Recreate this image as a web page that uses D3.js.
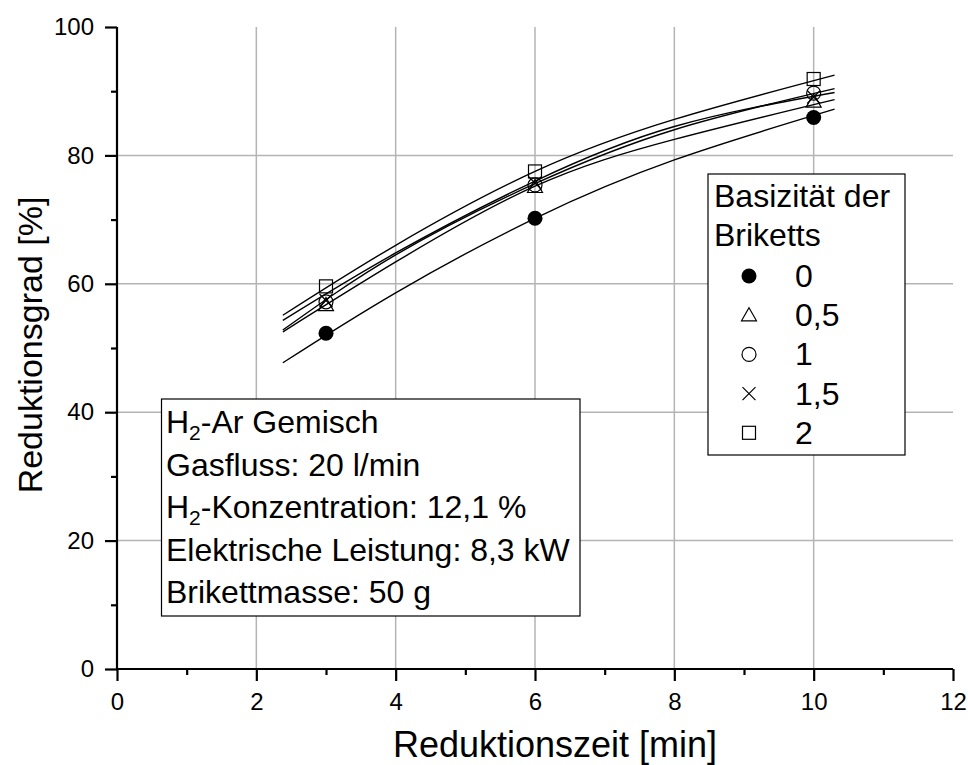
<!DOCTYPE html>
<html>
<head>
<meta charset="utf-8">
<script src="https://cdn.jsdelivr.net/npm/d3@7"></script>
<style>
  body { margin: 0; background: #fff; }
  text { font-family: "Liberation Sans", Arial, sans-serif; }
</style>
</head>
<body>
<div id="chart"></div>
<script>
// measured values
var times = [3, 6, 10];
var seriesNames = ['0', '0,5', '1', '1,5', '2'];
var symbols = ['dot', 'triangle', 'circle', 'cross', 'square'];
var grad0 = [52.3, 70.2, 85.9];
var grad05 = [56.7, 75.1, 88.4];
var grad1 = [57.2, 75.4, 89.7];
var grad15 = [57.4, 75.7, 89.1];
var grad2 = [59.6, 77.5, 91.9];

// fitted curves
var fitX = [2.38, 4, 6, 8, 10.3];
var fit0 = [47.7, 58.6, 70.2, 79.3, 87.2];
var fit05 = [52.5, 63.4, 75.2, 82.5, 88.7];
var fit1 = [52.8, 64.5, 75.6, 84.0, 90.4];
var fit15 = [54.3, 64.8, 76.0, 84.5, 89.8];
var fit2 = [55.1, 66.0, 77.5, 85.6, 92.5];

var xTicks = [0, 2, 4, 6, 8, 10, 12];
var yTicks = [0, 20, 40, 60, 80, 100];

var infoLines = [
  ['H', '2', '-Ar Gemisch'],
  ['Gasfluss: 20 l/min'],
  ['H', '2', '-Konzentration: 12,1 %'],
  ['Elektrische Leistung: 8,3 kW'],
  ['Brikettmasse: 50 g']
];

var values = [grad0, grad05, grad1, grad15, grad2];
var fits = [fit0, fit05, fit1, fit15, fit2];

var width = 968, height = 765;
var margin = {left: 117, top: 27, right: 15, bottom: 96};

var svg = d3.select('#chart').append('svg')
  .attr('width', width)
  .attr('height', height);

var x = d3.scaleLinear().domain([0, 12]).range([margin.left, width - margin.right]);
var y = d3.scaleLinear().domain([0, 100]).range([height - margin.bottom, margin.top]);

// grid
svg.append('g').selectAll('line')
  .data(xTicks.filter(function(d) { return d > 0 && d < 12; }))
  .enter().append('line')
  .attr('x1', function(d) { return x(d); })
  .attr('x2', function(d) { return x(d); })
  .attr('y1', y(0)).attr('y2', y(100))
  .attr('stroke', '#b4b4b4').attr('stroke-width', 1.5);
svg.append('g').selectAll('line')
  .data(yTicks.filter(function(d) { return d > 0 && d < 100; }))
  .enter().append('line')
  .attr('y1', function(d) { return y(d); })
  .attr('y2', function(d) { return y(d); })
  .attr('x1', x(0)).attr('x2', x(12))
  .attr('stroke', '#b4b4b4').attr('stroke-width', 1.5);

// axes
var xAxis = svg.append('g')
  .attr('transform', 'translate(0,' + y(0) + ')')
  .call(d3.axisBottom(x).tickValues(xTicks).tickSize(12).tickPadding(12).tickFormat(d3.format('d')));
var xMinor = svg.append('g')
  .attr('transform', 'translate(0,' + y(0) + ')')
  .call(d3.axisBottom(x).tickValues(d3.range(1, 12, 2)).tickSize(6).tickFormat(''));
var yAxis = svg.append('g')
  .attr('transform', 'translate(' + x(0) + ',0)')
  .call(d3.axisLeft(y).tickValues(yTicks).tickSize(12).tickPadding(11).tickFormat(d3.format('d')));
var yMinor = svg.append('g')
  .attr('transform', 'translate(' + x(0) + ',0)')
  .call(d3.axisLeft(y).tickValues(d3.range(10, 100, 20)).tickSize(6).tickFormat(''));

[xAxis, xMinor, yAxis, yMinor].forEach(function(g) {
  g.selectAll('.domain').attr('stroke', '#000').attr('stroke-width', 2.2);
  g.selectAll('.tick line').attr('stroke', '#000').attr('stroke-width', 2.2);
  g.selectAll('.tick text').attr('font-size', 24).attr('fill', '#000')
    .style('font-family', '"Liberation Sans", Arial, sans-serif');
});
xMinor.select('.domain').remove();
yMinor.select('.domain').remove();
xAxis.select('.domain').attr('d', 'M' + x(0) + ',0H' + x(12));
yAxis.select('.domain').attr('d', 'M0,' + y(0) + 'V' + y(100));

// axis titles
svg.append('text')
  .attr('x', (x(0) + x(12)) / 2 + 20).attr('y', 757)
  .attr('text-anchor', 'middle').attr('font-size', 36)
  .text('Reduktionszeit [min]');
svg.append('text')
  .attr('transform', 'translate(42,' + (y(50) - 3) + ') rotate(-90)')
  .attr('text-anchor', 'middle').attr('font-size', 34)
  .text('Reduktionsgrad [%]');

// fit curves
var line = d3.line()
  .x(function(d) { return x(d[0]); })
  .y(function(d) { return y(d[1]); })
  .curve(d3.curveNatural);
fits.forEach(function(f) {
  svg.append('path')
    .datum(fitX.map(function(t, i) { return [t, f[i]]; }))
    .attr('d', line)
    .attr('fill', 'none').attr('stroke', '#000').attr('stroke-width', 1.4);
});

// markers
function drawSymbol(g, type, cx, cy) {
  if (type === 'dot') {
    g.append('circle').attr('cx', cx).attr('cy', cy).attr('r', 7.5).attr('fill', '#000');
  } else if (type === 'circle') {
    g.append('circle').attr('cx', cx).attr('cy', cy).attr('r', 7)
      .attr('fill', 'none').attr('stroke', '#000').attr('stroke-width', 1.2);
  } else if (type === 'triangle') {
    var s = 7.5;
    g.append('path')
      .attr('d', 'M' + cx + ',' + (cy - s) + 'L' + (cx + s) + ',' + (cy + s * 0.75) + 'L' + (cx - s) + ',' + (cy + s * 0.75) + 'Z')
      .attr('fill', 'none').attr('stroke', '#000').attr('stroke-width', 1.2);
  } else if (type === 'square') {
    g.append('rect').attr('x', cx - 6.5).attr('y', cy - 6.5).attr('width', 13).attr('height', 13)
      .attr('fill', 'none').attr('stroke', '#000').attr('stroke-width', 1.2);
  } else if (type === 'cross') {
    var c = 6.5;
    g.append('path')
      .attr('d', 'M' + (cx - c) + ',' + (cy - c) + 'L' + (cx + c) + ',' + (cy + c) + 'M' + (cx + c) + ',' + (cy - c) + 'L' + (cx - c) + ',' + (cy + c))
      .attr('fill', 'none').attr('stroke', '#000').attr('stroke-width', 1.2);
  }
}

var marks = svg.append('g');
values.forEach(function(v, si) {
  v.forEach(function(val, i) {
    drawSymbol(marks, symbols[si], x(times[i]), y(val));
  });
});

// legend
var leg = svg.append('g');
leg.append('rect').attr('x', 708).attr('y', 174).attr('width', 197).attr('height', 281)
  .attr('fill', '#fff').attr('stroke', '#000').attr('stroke-width', 1.2);
leg.append('text').attr('x', 714).attr('y', 207).attr('font-size', 32).text('Basizität der');
leg.append('text').attr('x', 714).attr('y', 246).attr('font-size', 32).text('Briketts');
seriesNames.forEach(function(n, i) {
  var cy = 276 + i * 39.2;
  drawSymbol(leg, symbols[i], 749, cy);
  leg.append('text').attr('x', 795).attr('y', cy + 11).attr('font-size', 32).text(n);
});

// info box
var info = svg.append('g');
info.append('rect').attr('x', 161.5).attr('y', 399).attr('width', 418.5).attr('height', 217)
  .attr('fill', '#fff').attr('stroke', '#000').attr('stroke-width', 1.2);
infoLines.forEach(function(parts, i) {
  var t = info.append('text').attr('x', 166).attr('y', 433 + i * 42.5).attr('font-size', 32);
  if (parts.length === 1) {
    t.text(parts[0]);
  } else {
    t.append('tspan').text(parts[0]);
    t.append('tspan').attr('font-size', 21).attr('dy', 7).text(parts[1]);
    t.append('tspan').attr('dy', -7).text(parts[2]);
  }
});
</script>
</body>
</html>
